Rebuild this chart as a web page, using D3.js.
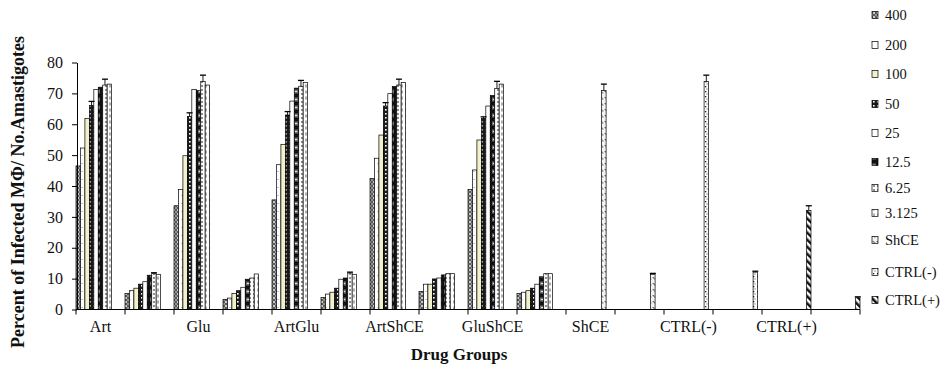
<!DOCTYPE html>
<html>
<head>
<meta charset="utf-8">
<script src="https://cdn.jsdelivr.net/npm/d3@7"></script>
<style>
  html, body { margin: 0; padding: 0; background: #fff; }
  svg { display: block; font-family: "Liberation Serif", "DejaVu Serif", serif; }
</style>
</head>
<body>
<svg id="chart" width="945" height="370"></svg>
<script>
// Drug groups; each group has two measured categories
const groups = ["Art", "Glu", "ArtGlu", "ArtShCE", "GluShCE", "ShCE", "CTRL(-)", "CTRL(+)"];
const measures = ["Infected MΦ (%)", "Amastigotes"];

// Series (concentrations plus controls)
const seriesNames = ["400", "200", "100", "50", "25", "12.5", "6.25", "3.125", "ShCE", "CTRL(-)", "CTRL(+)"];

// Values per category (16 categories = 8 groups x 2 measures); null = no bar
const v400  = [46.5, 5.2, 33.6, 3.3, 35.5, 3.9, 42.4, 5.8, 38.9, 5.2, null, null, null, null, null, null];
const v200  = [52.3, 6.1, 38.9, 3.7, 46.9, 5.0, 49.0, 8.2, 45.2, 5.6, null, null, null, null, null, null];
const v100  = [61.9, 6.9, 49.8, 5.2, 53.5, 5.6, 56.5, 8.2, 54.9, 6.1, null, null, null, null, null, null];
const v50   = [66.1, 8.2, 62.5, 6.1, 63.0, 6.9, 65.9, 9.9, 61.9, 6.9, null, null, null, null, null, null];
const v25   = [71.3, 9.0, 71.3, 7.2, 67.5, 9.8, 69.9, 10.2, 65.9, 8.2, null, null, null, null, null, null];
const v12_5 = [72.0, 11.1, 70.9, 9.8, 71.7, 10.2, 72.2, 11.2, 69.3, 10.6, null, null, null, null, null, null];
const v6_25 = [72.7, 11.6, 73.8, 10.2, 72.3, 11.8, 72.7, 11.6, 71.6, 11.6, null, null, null, null, null, null];
const v3_125= [73.0, 11.4, 72.7, 11.5, 73.5, 11.4, 73.5, 11.6, 73.0, 11.6, null, null, null, null, null, null];
const vShCE = [null, null, null, null, null, null, null, null, null, null, 70.9, 11.4, null, null, null, null];
const vNeg  = [null, null, null, null, null, null, null, null, null, null, null, null, 73.8, 12.1, null, null];
const vPos  = [null, null, null, null, null, null, null, null, null, null, null, null, null, null, 32.1, 3.8];

// Upper error bars (0 = none drawn)
const e50   = [1.3, 0, 1.2, 0, 1.1, 0, 1.1, 0, 0.5, 0, 0, 0, 0, 0, 0, 0];
const e6_25 = [1.9, 0.3, 2.1, 0, 1.9, 0.3, 1.9, 0, 2.3, 0, 0, 0, 0, 0, 0, 0];
const eShCE = [0, 0, 0, 0, 0, 0, 0, 0, 0, 0, 2.1, 0.3, 0, 0, 0, 0];
const eNeg  = [0, 0, 0, 0, 0, 0, 0, 0, 0, 0, 0, 0, 2.1, 0.3, 0, 0];
const ePos  = [0, 0, 0, 0, 0, 0, 0, 0, 0, 0, 0, 0, 0, 0, 1.5, 0.3];

const yTicks = [0, 10, 20, 30, 40, 50, 60, 70, 80];

const seriesValues = [v400, v200, v100, v50, v25, v12_5, v6_25, v3_125, vShCE, vNeg, vPos];
const seriesErrors = [null, null, null, e50, null, null, e6_25, null, eShCE, eNeg, ePos];

const categories = [];
groups.forEach(g => measures.forEach(m => categories.push(g + " | " + m)));

const svg = d3.select("#chart");
const margin = { left: 76, right: 85, top: 62.5, bottom: 60.5 };
const W = 945, H = 370;

const x = d3.scaleBand().domain(categories).range([margin.left, W - margin.right]).padding(0);
const xs = d3.scaleBand().domain(seriesNames).range([0, x.bandwidth()]).padding(0);
const y = d3.scaleLinear().domain([0, 80]).range([H - margin.bottom, margin.top]);

// Fill patterns for each series
const defs = svg.append("defs");
function pat(id, w, h, bg, draw) {
  const p = defs.append("pattern").attr("id", id).attr("patternUnits", "userSpaceOnUse")
    .attr("width", w).attr("height", h);
  p.append("rect").attr("width", w).attr("height", h).attr("fill", bg);
  draw(p);
}
pat("p0", 4, 4, "#5a5a5a", p => {
  p.append("path").attr("d", "M0.5,0.5L3.5,3.5M3.5,0.5L0.5,3.5").attr("stroke", "#e8e8e8").attr("stroke-width", 0.8);
});
pat("p1", 4, 8, "#ffffff", p => {
  p.append("rect").attr("x", 1.5).attr("y", 3).attr("width", 1).attr("height", 1).attr("fill", "#888");
});
pat("p2", 4, 4, "#f3f0cc", p => {});
pat("p3", 4, 4, "#1a1a1a", p => {
  p.append("rect").attr("x", 1).attr("y", 1).attr("width", 1.6).attr("height", 1.6).attr("fill", "#fff");
});
pat("p4", 4, 4, "#ffffff", p => {});
pat("p5", 6, 8, "#111", p => {
  p.append("path").attr("d", "M1,1.5V5.5M3,1.5V5.5M1,3.5H3").attr("stroke", "#fff").attr("stroke-width", 0.8);
});
pat("p6", 4, 8, "#ffffff", p => {
  p.append("path").attr("d", "M1,2H3M1,6H3").attr("stroke", "#222").attr("stroke-width", 1);
});
pat("p7", 4, 6, "#ffffff", p => {
  p.append("path").attr("d", "M2,0.5V3.5").attr("stroke", "#777").attr("stroke-width", 1.2);
});
pat("p8", 4, 6, "#f4f4f4", p => {
  p.append("path").attr("d", "M0.5,1.5h1.5v1.5h1.5").attr("stroke", "#555").attr("stroke-width", 0.8).attr("fill", "none");
});
pat("p9", 4, 5, "#ffffff", p => {
  p.append("rect").attr("x", 1).attr("y", 1).attr("width", 1.3).attr("height", 1.3).attr("fill", "#222");
  p.append("rect").attr("x", 2.5).attr("y", 3.5).attr("width", 1).attr("height", 1).attr("fill", "#444");
});
pat("p10", 5, 5, "#ffffff", p => {
  p.attr("patternTransform", "rotate(-45)");
  p.append("rect").attr("width", 2.5).attr("height", 5).attr("fill", "#111");
});

// Bars
const barData = [];
seriesValues.forEach((vals, si) => {
  vals.forEach((v, ci) => {
    if (v != null) {
      const err = seriesErrors[si] ? seriesErrors[si][ci] : 0;
      barData.push({ s: seriesNames[si], si, c: categories[ci], v, err });
    }
  });
});

const barG = svg.append("g");
barG.selectAll("rect").data(barData).join("rect")
  .attr("x", d => x(d.c) + xs(d.s))
  .attr("y", d => y(d.v))
  .attr("width", xs.bandwidth())
  .attr("height", d => y(0) - y(d.v))
  .attr("fill", d => `url(#p${d.si})`)
  .attr("stroke", "#000")
  .attr("stroke-width", 0.7);

// Error bars (upper)
const errG = svg.append("g").attr("stroke", "#000").attr("stroke-width", 0.9);
barData.filter(d => d.err > 0).forEach(d => {
  const cx = x(d.c) + xs(d.s) + xs.bandwidth() / 2;
  errG.append("line").attr("x1", cx).attr("x2", cx).attr("y1", y(d.v)).attr("y2", y(d.v + d.err));
  errG.append("line").attr("x1", cx - 3).attr("x2", cx + 3).attr("y1", y(d.v + d.err)).attr("y2", y(d.v + d.err))
    .attr("stroke-width", 1.3);
});

// Y axis
const yAxis = d3.axisLeft(y).tickValues(yTicks).tickSize(5).tickPadding(9).tickSizeOuter(0);
const yg = svg.append("g").attr("transform", `translate(${margin.left + 1},0)`).call(yAxis);
yg.select(".domain").attr("stroke", "#000");
yg.selectAll(".tick line").attr("stroke", "#000");
yg.selectAll("text").attr("font-size", 16).attr("fill", "#111").attr("font-family", "Liberation Serif");

// X axis: baseline, tick marks on category boundaries, labels under each group
const xg = svg.append("g").attr("transform", `translate(0,${y(0)})`);
xg.append("line").attr("x1", margin.left).attr("x2", W - margin.right).attr("stroke", "#000");
const bounds = d3.range(categories.length + 1).map(i => margin.left + i * x.step());
xg.selectAll(".bt").data(bounds).join("line").attr("class", "bt")
  .attr("x1", d => d).attr("x2", d => d).attr("y1", 0).attr("y2", 5).attr("stroke", "#000");
xg.selectAll(".gl").data(groups).join("text").attr("class", "gl")
  .attr("x", (g, i) => x(categories[i * 2]) + x.bandwidth() / 2)
  .attr("y", 22)
  .attr("text-anchor", "middle")
  .attr("font-size", 16)
  .attr("fill", "#111")
  .text(g => g);

// Axis titles
svg.append("text")
  .attr("x", 459).attr("y", 360)
  .attr("text-anchor", "middle")
  .attr("font-size", 17).attr("font-weight", "bold").attr("fill", "#111")
  .text("Drug Groups");
svg.append("text")
  .attr("transform", "translate(24,192) rotate(-90)")
  .attr("text-anchor", "middle")
  .attr("font-size", 18).attr("font-weight", "bold").attr("fill", "#111")
  .text("Percent of Infected  MΦ/ No.Amastigotes");

// Legend
const legendY = [15, 45, 74, 104, 133, 162, 188, 213, 240, 272, 300];
const lg = svg.append("g");
seriesNames.forEach((s, i) => {
  const g = lg.append("g").attr("transform", `translate(872,${legendY[i]})`);
  g.append("rect").attr("x", 0).attr("y", -3.5).attr("width", 6).attr("height", 7)
    .attr("fill", `url(#p${i})`).attr("stroke", "#000").attr("stroke-width", 0.7);
  g.append("text").attr("x", 13).attr("y", 5).attr("font-size", 14.5).attr("fill", "#111").text(s);
});
</script>
</body>
</html>
